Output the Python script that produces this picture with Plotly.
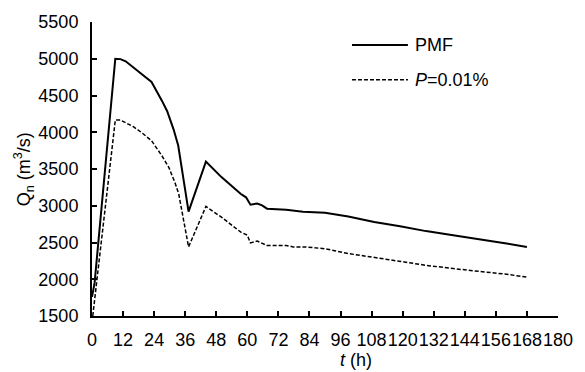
import plotly.graph_objects as go

# Data
t_pmf = [0, 1, 9, 11, 13, 16, 19, 23, 27, 29, 31.5, 33.3, 37.3, 44, 50, 57.5, 59.5, 61.2, 63.8,
         65.7, 67.6, 75, 81.5, 90, 99, 109, 119, 129, 139.5, 149.5, 159.5, 168]
q_pmf = [1760, 1950, 5000, 4995, 4965, 4880, 4790, 4685, 4430, 4290, 4040, 3820, 2920, 3600, 3390,
         3160, 3115, 3015, 3030, 3005, 2960, 2945, 2920, 2905, 2855, 2780, 2720, 2655, 2600, 2540,
         2490, 2440]

t_p = [0.3, 2, 9, 11, 13, 16, 19, 23, 27, 29.7, 32.2, 33.5, 37.3, 44, 50, 57.5, 60, 61.2, 63.8,
       67.6, 75, 77.7, 82.5, 90, 99, 109, 119, 129, 139.5, 149.5, 159.5, 168]
q_p = [1500, 2030, 4165, 4165, 4130, 4075, 4000, 3885, 3680, 3520, 3300, 3160, 2440, 2990, 2845,
       2640, 2600, 2495, 2520, 2460, 2460, 2440, 2440, 2415, 2350, 2295, 2245, 2190, 2145, 2110,
       2070, 2030]

x_ticks = [0, 12, 24, 36, 48, 60, 72, 84, 96, 108, 120, 132, 144, 156, 168, 180]
y_ticks = [1500, 2000, 2500, 3000, 3500, 4000, 4500, 5000, 5500]

series_names = ["PMF", "<i>P</i>=0.01%"]

FONT = "Liberation Sans, Arial, sans-serif"
W, H = 585, 372
L, R, T, B = 92, 18, 21, 56

fig = go.Figure()
fig.add_trace(go.Scatter(x=t_pmf, y=q_pmf, mode="lines", name=series_names[0],
                         line=dict(color="black", width=2)))
fig.add_trace(go.Scatter(x=t_p, y=q_p, mode="lines", name=series_names[1],
                         line=dict(color="black", width=1.5, dash="4px,2px")))

pw = W - L - R
ph = H - T - B

def px_x(x):
    return (x - L) / pw

def px_y(y):
    return (H - B - y) / ph

# manual legend
leg_items = [(44, dict(color="black", width=2)), (79, dict(color="black", width=1.5, dash="4px,2px"))]
for (yy, ln), name in zip(leg_items, series_names):
    fig.add_shape(type="line", xref="paper", yref="paper",
                  x0=px_x(357), x1=px_x(414), y0=px_y(yy), y1=px_y(yy), line=ln)
    fig.add_annotation(xref="paper", yref="paper", x=px_x(419), y=px_y(yy), text=name,
                       showarrow=False, xanchor="left", yanchor="middle",
                       font=dict(family=FONT, size=18, color="black"))

# axis titles
fig.add_annotation(xref="paper", yref="paper", x=px_x(361), y=px_y(360),
                   text="<i>t</i> (h)", showarrow=False, xanchor="center", yanchor="middle",
                   font=dict(family=FONT, size=18, color="black"))
fig.add_annotation(xref="paper", yref="paper", x=px_x(22), y=0.5,
                   text="Q<sub>n</sub> (m<sup>3</sup>/s)", showarrow=False, textangle=-90,
                   xanchor="center", yanchor="middle",
                   font=dict(family=FONT, size=18, color="black"))

fig.update_layout(
    width=W, height=H,
    margin=dict(l=L, r=R, t=T, b=B),
    paper_bgcolor="white", plot_bgcolor="white",
    showlegend=False,
    font=dict(family=FONT, size=18, color="black"),
    xaxis=dict(range=[0, 180], tickvals=x_ticks, ticktext=[str(v) for v in x_ticks],
               tickangle=0,
               showgrid=False, zeroline=False, showline=True, linecolor="black", linewidth=2,
               ticks="inside", ticklen=5, tickwidth=1.5, tickcolor="black",
               tickfont=dict(family=FONT, size=18, color="black"), ticklabelstandoff=6),
    yaxis=dict(range=[1500, 5500], tickvals=y_ticks, ticktext=[str(v) for v in y_ticks],
               showgrid=False, zeroline=False, showline=True, linecolor="black", linewidth=2,
               ticks="inside", ticklen=5, tickwidth=1.5, tickcolor="black",
               tickfont=dict(family=FONT, size=18, color="black"), ticklabelstandoff=8),
)

fig.write_html("out.html")
